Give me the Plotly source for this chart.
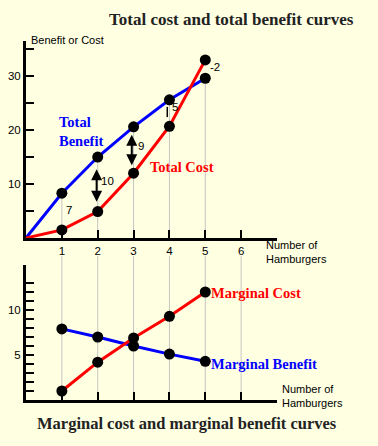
import plotly.graph_objects as go

# ---- data ----
quantity = [1, 2, 3, 4, 5]
total_benefit = [8.3, 15, 20.6, 25.6, 29.6]
total_cost = [1.5, 4.9, 12, 20.7, 33]
net_labels = ["7", "10", "9", "5", "-2"]
marginal_benefit = [7.9, 7, 6, 5.1, 4.3]
marginal_cost = [1, 4.2, 6.9, 9.3, 12]
x_ticks = [1, 2, 3, 4, 5, 6]
top_y_ticks = [5, 10, 15, 20, 25, 30, 35]
top_y_text = ["", "10", "", "20", "", "30", ""]
bot_y_ticks = list(range(1, 14))
bot_y_text = ["5" if v == 5 else "10" if v == 10 else "" for v in bot_y_ticks]

W, H = 378, 446
BG = "#FFFFE2"
BLUE = "#0000FF"
RED = "#FF0000"
GRAY = "#C4C4C4"
SANS = "Liberation Sans, Arial, sans-serif"
SERIF = "Liberation Serif, Times New Roman, serif"


def px(x, y):
    return x / W, 1 - y / H


fig = go.Figure()

# gray guide lines in the top chart (from axis up to total benefit)
gx, gy = [], []
for q, b in zip(quantity, total_benefit):
    gx += [q, q, None]
    gy += [0, b, None]
fig.add_trace(go.Scatter(x=gx, y=gy, mode="lines", line=dict(color=GRAY, width=1),
                         hoverinfo="skip", showlegend=False, xaxis="x", yaxis="y"))

# total benefit / total cost
fig.add_trace(go.Scatter(x=[0] + quantity, y=[0] + total_benefit, mode="lines",
                         line=dict(color=BLUE, width=3), showlegend=False,
                         xaxis="x", yaxis="y"))
fig.add_trace(go.Scatter(x=[0] + quantity, y=[0] + total_cost, mode="lines",
                         line=dict(color=RED, width=3), showlegend=False,
                         xaxis="x", yaxis="y"))
fig.add_trace(go.Scatter(x=quantity + quantity, y=total_benefit + total_cost, mode="markers",
                         marker=dict(color="black", size=11), showlegend=False,
                         xaxis="x", yaxis="y"))

# marginal curves
fig.add_trace(go.Scatter(x=quantity, y=marginal_benefit, mode="lines",
                         line=dict(color=BLUE, width=3), showlegend=False,
                         xaxis="x2", yaxis="y2"))
fig.add_trace(go.Scatter(x=quantity, y=marginal_cost, mode="lines",
                         line=dict(color=RED, width=3), showlegend=False,
                         xaxis="x2", yaxis="y2"))
fig.add_trace(go.Scatter(x=quantity + quantity, y=marginal_benefit + marginal_cost,
                         mode="markers", marker=dict(color="black", size=11),
                         showlegend=False, xaxis="x2", yaxis="y2"))

shapes = []
# gray guide lines through the lower chart
y_top = px(0, 256)[1]
y_bot = px(0, 400)[1]
for q in x_ticks:
    shapes.append(dict(type="line", xref="x2", yref="paper", x0=q, x1=q, y0=y_bot, y1=y_top,
                       line=dict(color=GRAY, width=1), layer="below"))
# short bar next to the "5" gap
shapes.append(dict(type="line", xref="x", yref="y", x0=3.94, x1=3.94, y0=22.4, y1=24.3,
                   line=dict(color="black", width=1.5)))

annotations = []


def text(x, y, t, size=11, color="black", family=SANS, anchor="left", bold=False):
    xp, yp = px(x, y)
    if bold:
        t = "<b>" + t + "</b>"
    annotations.append(dict(x=xp, y=yp, xref="paper", yref="paper", text=t, showarrow=False,
                            xanchor=anchor, yanchor="middle", align="left",
                            font=dict(size=size, color=color, family=family)))


text(231, 19, "Total cost and total benefit curves", 17, "#222222", SERIF, "center", True)
text(187, 423, "Marginal cost and marginal benefit curves", 16.5, "#222222", SERIF, "center", True)
text(29, 40, "Benefit or Cost", 11)
text(264, 252, "Number of<br>Hamburgers", 11)
text(280, 396, "Number of<br>Hamburgers", 11)
text(57, 132, "Total<br>Benefit", 14.5, BLUE, SERIF, "left", True)
text(148, 167, "Total Cost", 14.5, RED, SERIF, "left", True)
text(209, 293, "Marginal Cost", 14.5, RED, SERIF, "left", True)
text(209, 364, "Marginal Benefit", 14.5, BLUE, SERIF, "left", True)

# net-benefit labels
label_pos = [(64, 210), (99, 181), (136, 146), (170, 107), (208, 67)]
for (lx, ly), t in zip(label_pos, net_labels):
    text(lx, ly, t, 11.5)

# double-headed arrows
for xq, y_hi, y_lo in [(1.97, 13.0, 6.7), (2.95, 19.4, 13.5)]:
    annotations.append(dict(x=xq, y=y_lo, ax=xq, ay=y_hi, xref="x", yref="y",
                            axref="x", ayref="y", text="", showarrow=True,
                            arrowhead=2, startarrowhead=2, arrowside="end+start",
                            arrowsize=1.1, startarrowsize=1.1,
                            arrowwidth=2, arrowcolor="black"))

xdom = [26 / W, 277 / W]
axis_common = dict(showgrid=False, zeroline=False, showline=True, linecolor="black",
                   linewidth=3, tickcolor="black", tickwidth=1.5, ticklen=8,
                   ticks="inside", tickfont=dict(family=SANS, size=11.5, color="black"),
                   fixedrange=True)

fig.update_layout(
    width=W, height=H,
    margin=dict(l=0, r=0, t=0, b=0),
    paper_bgcolor=BG, plot_bgcolor="rgba(0,0,0,0)",
    showlegend=False,
    xaxis=dict(domain=xdom, range=[0, 7], anchor="y", tickvals=x_ticks,
               ticktext=[str(v) for v in x_ticks], **axis_common),
    yaxis=dict(domain=[px(0, 238)[1], px(0, 41)[1]], range=[0, 36.5], anchor="x",
               tickvals=top_y_ticks, ticktext=top_y_text, **axis_common),
    xaxis2=dict(domain=xdom, range=[0, 7], anchor="y2", tickvals=x_ticks,
                showticklabels=False, **axis_common),
    yaxis2=dict(domain=[px(0, 400)[1], px(0, 265)[1]], range=[0, 15], anchor="x2",
                tickvals=bot_y_ticks, ticktext=bot_y_text, **axis_common),
    shapes=shapes,
    annotations=annotations,
)

fig.write_html("out.html", config={"displayModeBar": False},
               post_script="document.body.style.margin='0';"
                           "document.body.style.overflow='hidden';"
                           "document.body.style.background='" + BG + "';")
